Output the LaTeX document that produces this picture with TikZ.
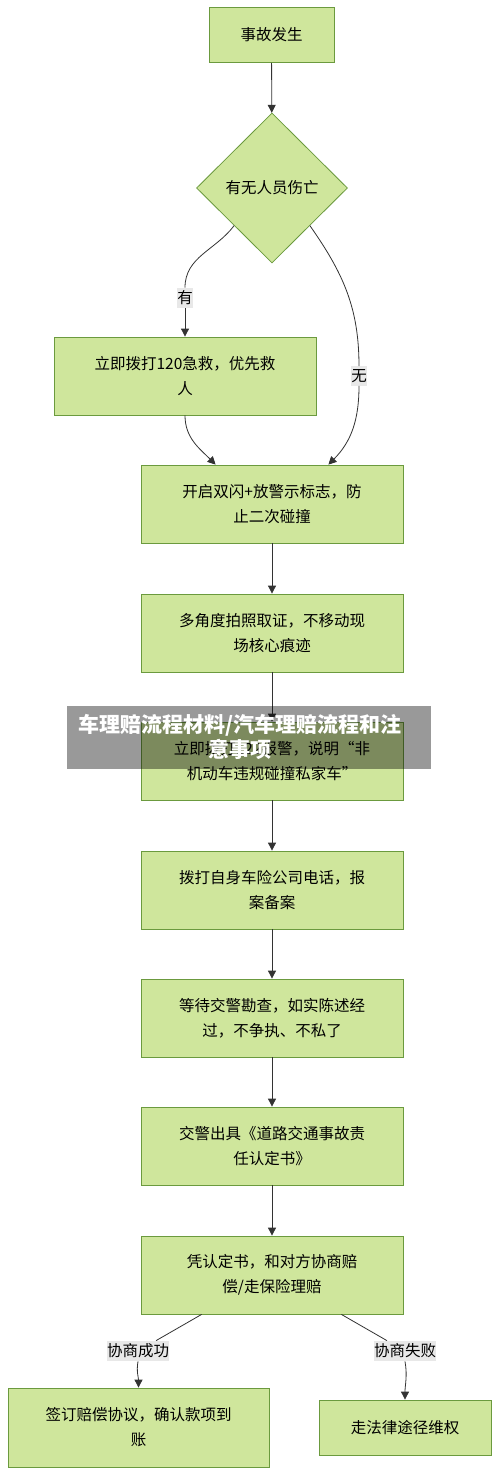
\documentclass[tikz,border=0pt]{standalone}
\usepackage{fontspec}
\setmainfont{Noto Sans CJK SC}
\usetikzlibrary{shapes.geometric,arrows.meta}
\definecolor{boxgreen}{HTML}{CFE69C}
\definecolor{boxline}{HTML}{6B9A3E}
\definecolor{lblgray}{HTML}{E8E8E8}
\definecolor{wire}{HTML}{333333}
\tikzset{
  flowbox/.style={draw=boxline,fill=boxgreen,line width=0.8pt,
    minimum width=262pt,minimum height=78pt,inner sep=0pt,
    align=center,font=\fontsize{15.5}{25}\selectfont},
  choice/.style={draw=boxline,fill=boxgreen,line width=0.8pt,diamond,
    minimum width=151pt,minimum height=150pt,inner sep=0pt,
    font=\fontsize{15.5}{25}\selectfont},
  edgelbl/.style={fill=lblgray,inner xsep=0pt,inner ysep=3pt,
    font=\fontsize{15.5}{20}\selectfont},
  flowline/.style={draw=wire,line width=0.8pt},
  flowarrow/.style={flowline,-{Triangle[length=8pt,width=8pt]}}
}
\begin{document}
\begin{tikzpicture}[x=1pt,y=-1pt]
  \useasboundingbox (0,0) rectangle (500,1475);
  \fill[white] (0,0) rectangle (500,1475);

  % main column
  \node[flowbox,minimum width=125pt,minimum height=55pt] (start) at (271.5,35) {事故发生};
  \node[choice] (hurt) at (272,188) {有无人员伤亡};
  \node[flowbox] (rescue) at (185,376) {立即拨打120急救，优先救\\人};
  \node[flowbox] (warn) at (272,504) {开启双闪+放警示标志，防\\止二次碰撞};
  \node[flowbox] (photo) at (272,633) {多角度拍照取证，不移动现\\场核心痕迹};
  \node[flowbox] (police) at (272,761) {立即拨打122报警，说明“非\\机动车违规碰撞私家车”};
  \node[flowbox] (insure) at (272,890) {拨打自身车险公司电话，报\\案备案};
  \node[flowbox] (wait) at (272,1018) {等待交警勘查，如实陈述经\\过，不争执、不私了};
  \node[flowbox] (report) at (272,1146) {交警出具《道路交通事故责\\任认定书》};
  \node[flowbox] (talk) at (272,1275) {凭认定书，和对方协商赔\\偿/走保险理赔};
  \node[flowbox,minimum width=261pt,minimum height=79pt] (sign) at (138.5,1427.5) {签订赔偿协议，确认款项到\\账};
  \node[flowbox,minimum width=172pt,minimum height=55pt] (law) at (405,1427.5) {走法律途径维权};

  % edge labels
  \node[edgelbl] (yes) at (185,298) {有};
  \node[edgelbl] (no) at (359,376) {无};
  \node[edgelbl] (ok) at (138,1351) {协商成功};
  \node[edgelbl] (fail) at (405,1351) {协商失败};

  % connectors
  \draw[flowarrow] (start) -- (hurt);
  \draw[flowline] (hurt.south west) to[out=-127,in=90] (yes.north);
  \draw[flowarrow] (yes.south) -- (rescue.north);
  \draw[flowline] (hurt.south east) to[out=-55,in=90] (no.north);
  \draw[flowarrow] (no.south) to[out=-90,in=45] ([xshift=-75pt]warn.north east);
  \draw[flowarrow] (rescue.south) to[out=-90,in=135] ([xshift=75pt]warn.north west);
  \foreach \a/\b in {warn/photo,photo/police,police/insure,insure/wait,wait/report,report/talk}
    \draw[flowarrow] (\a) -- (\b);
  \draw[flowline] ([xshift=61pt]talk.south west) -- (ok);
  \draw[flowarrow] (ok.south) to[out=-100,in=90] (sign.north);
  \draw[flowline] ([xshift=-62pt]talk.south east) -- (fail);
  \draw[flowarrow] (fail.south) to[out=-80,in=90] (law.north);

  % title band
  \fill[black,opacity=0.4] (67,706) rectangle (431,769);
  \node[white,align=center,font=\fontsize{21}{25}\selectfont\bfseries] (title) at (240,737)
    {车理赔流程材料/汽车理赔流程和注\\意事项};
\end{tikzpicture}
\end{document}
